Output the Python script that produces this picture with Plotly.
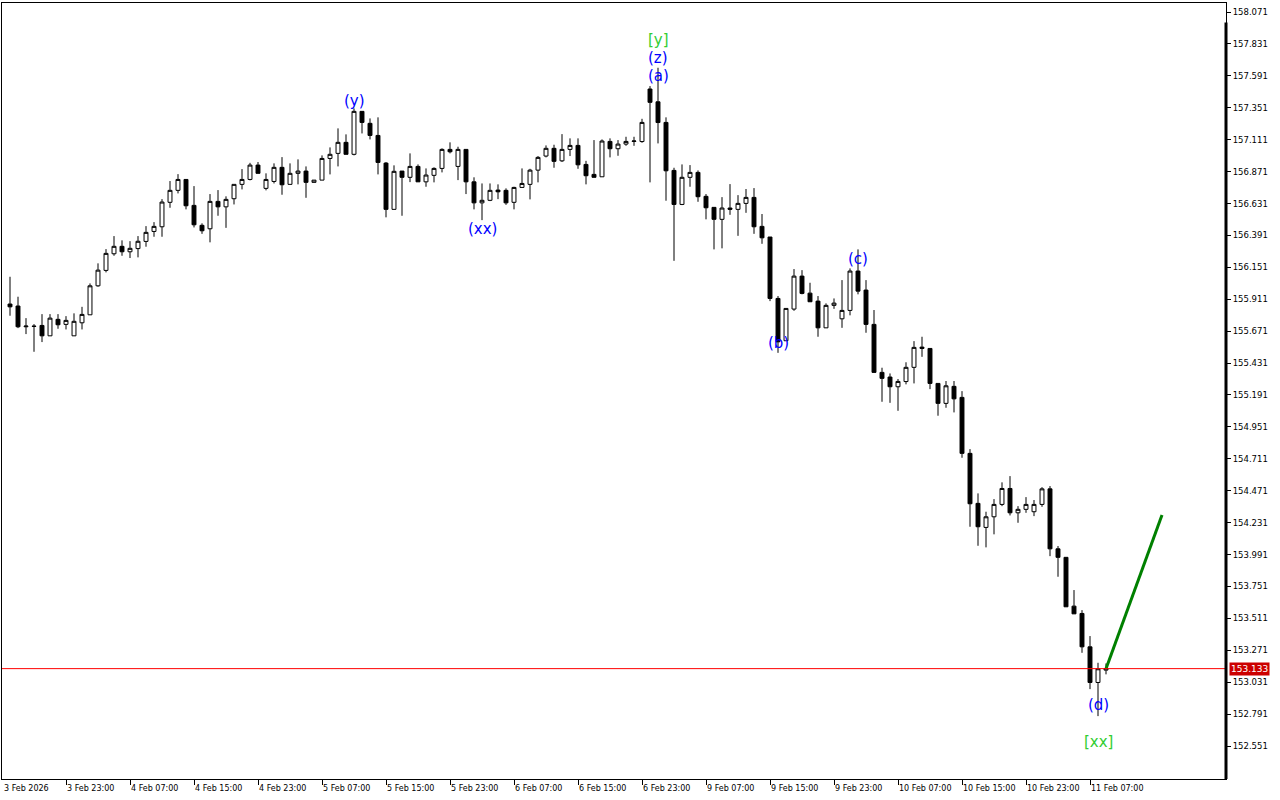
import plotly.graph_objects as go
import pandas as pd

# ---- data ----
times = list(pd.date_range("2026-02-03 16:00", "2026-02-06 23:00", freq="h").strftime("%Y-%m-%d %H:%M")) + \
        list(pd.date_range("2026-02-09 00:00", periods=58, freq="h").strftime("%Y-%m-%d %H:%M"))
future_times = list(pd.date_range("2026-02-11 10:00", periods=7, freq="h").strftime("%Y-%m-%d %H:%M"))

opens = [155.875,155.860,155.704,155.709,155.714,155.636,155.760,155.722,155.636,155.734,
         155.794,156.012,156.128,156.253,156.309,156.268,156.292,156.346,156.421,156.456,
         156.640,156.730,156.812,156.617,156.467,156.441,156.647,156.606,156.667,156.775,
         156.812,156.920,156.745,156.797,156.903,156.775,156.858,156.875,156.790,156.807,
         156.970,157.008,157.091,157.001,157.324,157.234,157.143,156.935,156.587,156.875,
         156.828,156.910,156.794,156.843,156.895,157.038,156.910,157.038,156.794,156.636,
         156.655,156.732,156.730,156.640,156.752,156.775,156.882,156.988,157.046,156.952,
         157.038,157.068,156.925,156.850,156.832,157.098,157.043,157.078,157.098,157.097,
         157.492,157.396,157.241,156.880,156.624,156.828,156.865,156.685,156.602,156.512,
         156.597,156.587,156.632,156.677,156.459,156.379,155.917,155.599,155.837,156.085,
         155.957,155.897,155.696,155.865,155.764,155.827,156.123,155.980,155.722,155.361,
         155.326,155.253,155.292,155.399,155.551,155.541,155.278,155.128,155.256,155.173,
         154.752,154.376,154.195,154.275,154.368,154.488,154.305,154.331,154.313,154.368,
         154.485,154.034,153.970,153.603,153.548,153.297,153.029,153.122]
highs = [156.080,155.930,155.769,155.724,155.799,155.799,155.799,155.784,155.805,155.854,
         156.030,156.181,156.288,156.386,156.354,156.348,156.386,156.461,156.491,156.664,
         156.800,156.852,156.812,156.762,156.482,156.702,156.732,156.685,156.775,156.890,
         156.937,156.943,156.858,156.933,156.980,156.933,156.963,156.910,156.807,156.993,
         157.053,157.196,157.151,157.346,157.324,157.271,157.279,156.943,156.918,156.875,
         157.008,156.925,156.895,156.903,157.046,157.091,157.058,157.038,156.828,156.782,
         156.782,156.775,156.745,156.757,156.895,156.892,156.988,157.068,157.073,157.153,
         157.121,157.121,156.952,157.108,157.113,157.121,157.108,157.133,157.133,157.268,
         157.514,157.652,157.279,156.900,156.925,156.920,156.880,156.702,156.602,156.679,
         156.777,156.694,156.740,156.747,156.552,156.379,155.935,155.842,156.138,156.130,
         156.035,155.935,155.880,155.917,156.055,156.143,156.286,156.055,155.830,155.396,
         155.353,155.311,155.437,155.596,155.629,155.541,155.278,155.296,155.296,155.220,
         154.784,154.451,154.313,154.408,154.534,154.581,154.355,154.423,154.401,154.498,
         154.506,154.055,153.970,153.724,153.573,153.378,153.177,153.172]
lows = [155.787,155.694,155.649,155.516,155.589,155.636,155.689,155.684,155.636,155.684,
        155.794,156.005,156.113,156.238,156.238,156.221,156.226,156.306,156.381,156.381,
        156.599,156.707,156.587,156.451,156.403,156.339,156.539,156.448,156.624,156.737,
        156.805,156.858,156.730,156.782,156.697,156.775,156.775,156.674,156.790,156.807,
        156.850,156.910,157.001,156.993,157.158,157.113,156.850,156.527,156.587,156.539,
        156.792,156.794,156.757,156.790,156.865,157.008,156.807,156.702,156.587,156.506,
        156.649,156.664,156.621,156.587,156.752,156.662,156.790,156.978,156.900,156.943,
        156.988,156.892,156.775,156.828,156.832,156.978,156.990,157.065,157.065,157.088,
        156.790,157.083,156.652,156.200,156.619,156.757,156.644,156.512,156.286,156.294,
        156.546,156.388,156.561,156.403,156.328,155.897,155.508,155.599,155.824,155.948,
        155.892,155.629,155.696,155.839,155.696,155.790,155.948,155.659,155.361,155.140,
        155.132,155.072,155.271,155.278,155.478,155.235,155.035,155.095,155.060,154.719,
        154.200,154.057,154.045,154.143,154.355,154.285,154.230,154.305,154.280,154.350,
        153.979,153.824,153.598,153.545,153.252,152.979,152.776,153.090]
closes = [155.854,155.704,155.709,155.707,155.636,155.769,155.719,155.752,155.745,155.797,
          156.012,156.130,156.256,156.309,156.268,156.294,156.347,156.414,156.459,156.642,
          156.730,156.812,156.614,156.471,156.426,156.647,156.606,156.662,156.775,156.812,
          156.920,156.858,156.812,156.903,156.772,156.858,156.875,156.790,156.807,156.970,
          157.001,157.091,157.001,157.324,157.241,157.143,156.940,156.587,156.873,156.828,
          156.910,156.794,156.845,156.895,157.038,157.020,157.038,156.794,156.636,156.655,
          156.730,156.719,156.636,156.752,156.782,156.882,156.978,157.046,156.948,157.038,
          157.068,156.922,156.840,156.828,157.101,157.043,157.078,157.098,157.101,157.241,
          157.392,157.240,156.877,156.624,156.828,156.865,156.682,156.599,156.512,156.597,
          156.587,156.632,156.677,156.456,156.373,155.917,155.591,155.842,156.085,155.955,
          155.892,155.696,155.865,155.882,155.827,156.123,155.972,155.722,155.361,155.316,
          155.253,155.293,155.399,155.549,155.541,155.278,155.128,155.260,155.162,154.752,
          154.373,154.200,154.275,154.368,154.488,154.305,154.331,154.368,154.368,154.485,
          154.034,153.970,153.598,153.545,153.297,153.029,153.132,153.133]

current_price = 153.133
projection_times = ["2026-02-11 09:00", "2026-02-11 16:00"]
projection_prices = [153.133, 154.288]

tick_times = ["2026-02-03 23:00", "2026-02-04 07:00", "2026-02-04 15:00", "2026-02-04 23:00",
              "2026-02-05 07:00", "2026-02-05 15:00", "2026-02-05 23:00", "2026-02-06 07:00",
              "2026-02-06 15:00", "2026-02-06 23:00", "2026-02-09 07:00", "2026-02-09 15:00",
              "2026-02-09 23:00", "2026-02-10 07:00", "2026-02-10 15:00", "2026-02-10 23:00",
              "2026-02-11 07:00"]
tick_labels = ["3 Feb 23:00", "4 Feb 07:00", "4 Feb 15:00", "4 Feb 23:00", "5 Feb 07:00",
               "5 Feb 15:00", "5 Feb 23:00", "6 Feb 07:00", "6 Feb 15:00", "6 Feb 23:00",
               "9 Feb 07:00", "9 Feb 15:00", "9 Feb 23:00", "10 Feb 07:00", "10 Feb 15:00",
               "10 Feb 23:00", "11 Feb 07:00"]
first_label = "3 Feb 2026"

y_ticks = [152.551, 152.791, 153.031, 153.271, 153.511, 153.751, 153.991, 154.231, 154.471,
           154.711, 154.951, 155.191, 155.431, 155.671, 155.911, 156.151, 156.391, 156.631,
           156.871, 157.111, 157.351, 157.591, 157.831, 158.071]

wave_texts = ["(y)", "(xx)", "[y]", "(z)", "(a)", "(b)", "(c)", "(d)", "[xx]"]
wave_times = ["2026-02-05 11:00", "2026-02-06 03:00", "2026-02-09 01:00", "2026-02-09 01:00",
              "2026-02-09 01:00", "2026-02-09 16:00", "2026-02-10 02:00", "2026-02-11 08:00",
              "2026-02-11 08:00"]
wave_prices = [157.402, 156.439, 157.860, 157.725, 157.590, 155.582, 156.213, 152.859, 152.581]
wave_colors = ["blue", "blue", "#32cd32", "blue", "blue", "blue", "blue", "blue", "#32cd32"]

# ---- figure ----
AX_FONT = dict(family="DejaVu Sans", size=8, color="black")
Y_FONT = dict(family="DejaVu Sans", size=8.5, color="black")

fig = go.Figure()
fig.add_trace(go.Candlestick(
    x=times, open=opens, high=highs, low=lows, close=closes,
    increasing=dict(line=dict(color="black", width=1), fillcolor="white"),
    decreasing=dict(line=dict(color="black", width=1), fillcolor="black"),
    whiskerwidth=0, hoverinfo="skip", showlegend=False,
))
fig.add_trace(go.Scatter(
    x=projection_times, y=projection_prices, mode="lines",
    line=dict(color="#008000", width=3), hoverinfo="skip", showlegend=False,
))

annotations = []
for t, lab in zip(tick_times, tick_labels):
    annotations.append(dict(x=t, xref="x", y=0, yref="paper", text=lab, showarrow=False,
                            xanchor="left", yanchor="top", yshift=-3, xshift=-1, font=AX_FONT))
annotations.append(dict(x=0, xref="paper", y=0, yref="paper", text=first_label, showarrow=False,
                        xanchor="left", yanchor="top", yshift=-3, font=AX_FONT))
for txt, t, p, c in zip(wave_texts, wave_times, wave_prices, wave_colors):
    annotations.append(dict(x=t, xref="x", y=p, yref="y", text=txt, showarrow=False,
                            xanchor="center", yanchor="middle",
                            font=dict(family="DejaVu Sans", size=15, color=c)))
annotations.append(dict(x=1, xref="paper", y=current_price, yref="y", text=str(current_price),
                        showarrow=False, xanchor="left", yanchor="middle", xshift=3,
                        bgcolor="#cc0000", borderpad=1,
                        font=dict(family="DejaVu Sans", size=9, color="white")))

shapes = [
    dict(type="line", xref="paper", x0=0, x1=1, yref="y", y0=current_price, y1=current_price,
         line=dict(color="red", width=1)),
    dict(type="line", xref="paper", x0=1, x1=1, yref="paper", y0=0, y1=0.975,
         line=dict(color="black", width=3)),
]

fig.update_layout(
    width=1280, height=800,
    margin=dict(l=2, r=54, t=3, b=21, autoexpand=False),
    paper_bgcolor="white", plot_bgcolor="white",
    showlegend=False, hovermode=False,
    annotations=annotations, shapes=shapes,
    xaxis=dict(type="category", categoryorder="array", categoryarray=times + future_times,
               range=[-1, 152], rangeslider=dict(visible=False),
               showgrid=False, zeroline=False, showline=True, linecolor="black", linewidth=1,
               mirror=True, ticks="outside", ticklen=5, tickcolor="black",
               tickvals=tick_times, showticklabels=False),
    yaxis=dict(side="right", range=[152.303, 158.139], showgrid=False, zeroline=False,
               showline=True, linecolor="black", linewidth=1, mirror=True,
               ticks="outside", ticklen=4, tickcolor="black",
               tickvals=y_ticks, ticktext=[f"{v:.3f}" for v in y_ticks], tickfont=Y_FONT),
)

fig.write_html("out.html", config={"displayModeBar": False},
               post_script="document.body.style.margin='0px';document.body.style.overflow='hidden';")
